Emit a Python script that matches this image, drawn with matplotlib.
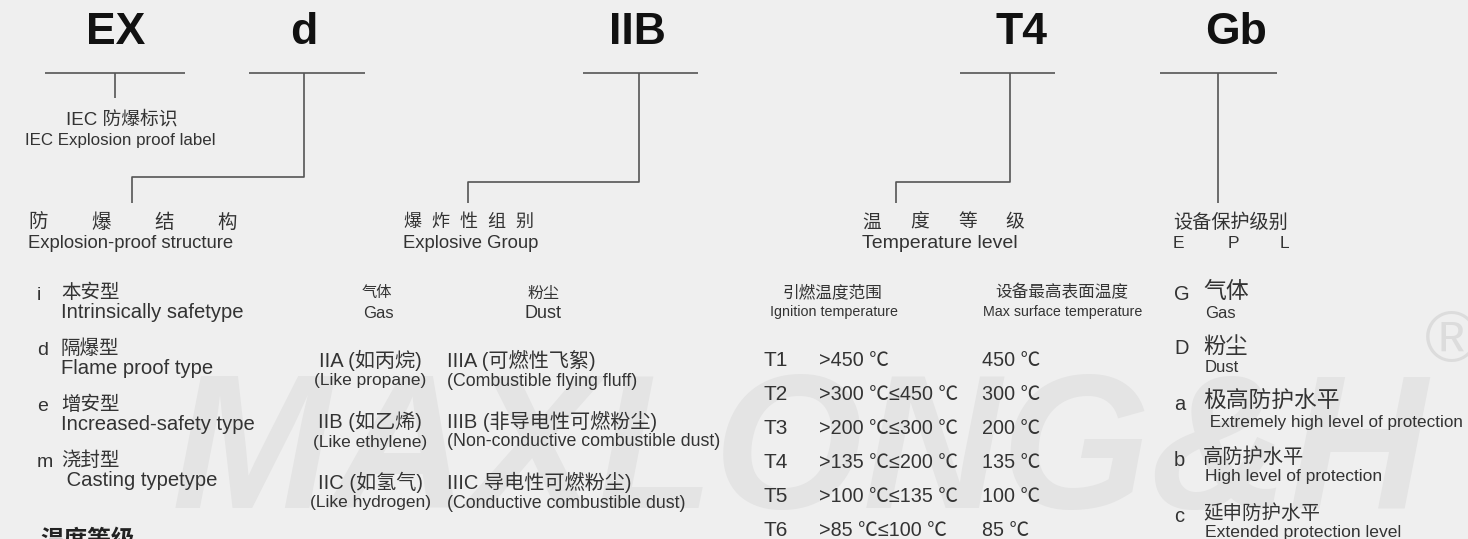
import matplotlib.pyplot as plt

LAT = ['Liberation Sans', 'Noto Sans CJK SC', 'DejaVu Sans']
CJK = ['Noto Sans CJK SC', 'Liberation Sans', 'DejaVu Sans']

# code parts on top and their x centres
codes = ['EX', 'd', 'IIB', 'T4', 'Gb']
code_x = [116, 304, 637, 1021, 1236]

# protection types
prot_keys = ['i', 'd', 'e', 'm']
prot_cn = ['本安型', '隔爆型', '增安型', '浇封型']
prot_en = ['Intrinsically safetype', 'Flame proof type', 'Increased-safety type', ' Casting typetype']

# explosive groups
gas_cn = ['IIA (如丙烷)', 'IIB (如乙烯)', 'IIC (如氢气)']
gas_en = ['(Like propane)', '(Like ethylene)', '(Like hydrogen)']
dust_cn = ['IIIA (可燃性飞絮)', 'IIIB (非导电性可燃粉尘)', 'IIIC 导电性可燃粉尘)']
dust_en = ['(Combustible flying fluff)', '(Non-conductive combustible dust)', '(Conductive combustible dust)']

# temperature classes
t_class = ['T1', 'T2', 'T3', 'T4', 'T5', 'T6']
t_range = ['>450 ℃', '>300 ℃≤450 ℃', '>200 ℃≤300 ℃', '>135 ℃≤200 ℃', '>100 ℃≤135 ℃', '>85 ℃≤100 ℃']
t_max = ['450 ℃', '300 ℃', '200 ℃', '135 ℃', '100 ℃', '85 ℃']

# EPL
epl_keys = ['G', 'D', 'a', 'b', 'c']
epl_cn = ['气体', '粉尘', '极高防护水平', '高防护水平', '延申防护水平']
epl_en = ['Gas', 'Dust', ' Extremely high level of protection', 'High level of protection', 'Extended protection level']

BG = '#efefef'
TXT = '#333333'
LN = '#555555'

fig = plt.figure(figsize=(14.68, 5.39), dpi=100)
fig.patch.set_facecolor(BG)
ax = fig.add_axes([0, 0, 1, 1])
ax.set_xlim(0, 1468)
ax.set_ylim(539, 0)
ax.axis('off')
ax.set_facecolor(BG)

# watermark
ax.text(800, 458, 'MAXLONG&H', fontsize=138, fontweight='bold', style='italic',
        family=LAT, color='#e4e4e4', ha='center', va='center', zorder=0)
ax.text(1452, 342, '®', fontsize=52, family=LAT, color='#dcdcdc', ha='center', va='center', zorder=0)

def t(x, y, s, size, ha='left', fam=LAT, color=TXT, weight='normal'):
    ax.text(x, y, s, fontsize=size, family=fam, color=color, ha=ha, va='center',
            fontweight=weight, zorder=2)

def seg(xs, ys):
    ax.plot(xs, ys, color=LN, lw=1.2, solid_capstyle='butt', zorder=1)

for c, x in zip(codes, code_x):
    t(x, 32, c, 32, ha='center', color='#111111', weight='bold')

# brackets
seg([45, 185], [73, 73]); seg([115, 115], [73, 98])
seg([249, 365], [73, 73]); seg([304, 304, 132, 132], [73, 177, 177, 203])
seg([583, 698], [73, 73]); seg([639, 639, 468, 468], [73, 182, 182, 203])
seg([960, 1055], [73, 73]); seg([1010, 1010, 896, 896], [73, 182, 182, 203])
seg([1160, 1277], [73, 73]); seg([1218, 1218], [73, 203])

# headers
t(122, 119, 'IEC 防爆标识', 13.5, ha='center')
t(120, 140, 'IEC Explosion proof label', 12.2, ha='center')

for x, ch in zip([28, 91, 154, 217], '防爆结构'):
    t(x, 222, ch, 14, fam=CJK)
t(28, 243, 'Explosion-proof structure', 13.3)

for x, ch in zip([403, 431, 459, 487, 515], '爆炸性组别'):
    t(x, 222, ch, 13, fam=CJK)
t(403, 243, 'Explosive Group', 13.3)

for x, ch in zip([862, 910, 958, 1005], '温度等级'):
    t(x, 222, ch, 13.5, fam=CJK)
t(862, 243, 'Temperature level', 14)

t(1173, 222, '设备保护级别', 13.8, fam=CJK)
for x, ch in zip([1173, 1228, 1280], 'EPL'):
    t(x, 243, ch, 12.5)

# protection types
for i, (k, cn, en) in enumerate(zip(prot_keys, prot_cn, prot_en)):
    y = 293 + i * 55.7
    t(37, y + 2, k, 14)
    t(61, y, cn, 14, fam=CJK)
    t(61, y + 20, en, 14.6)

t(40, 540, '温度等级', 17, fam=CJK, weight='bold', color='#222222')

# explosive group table
t(377, 293, '气体', 11, ha='center', fam=CJK)
t(378, 313, 'Gas', 12, ha='center')
t(543, 293, '粉尘', 11.5, ha='center', fam=CJK)
t(543, 314, 'Dust', 13, ha='center')
for i in range(3):
    y = 360 + i * 61
    t(370, y, gas_cn[i], 14.5, ha='center')
    t(370, y + 21, gas_en[i], 12.5, ha='center')
    t(447, y, dust_cn[i], 14.5)
    t(447, y + 21, dust_en[i], 12.8)

# temperature table
t(832, 293, '引燃温度范围', 12, ha='center', fam=CJK)
t(834, 312, 'Ignition temperature', 10.3, ha='center')
t(1062, 293, '设备最高表面温度', 12, ha='center', fam=CJK)
t(1063, 312, 'Max surface temperature', 10.3, ha='center')
for i in range(6):
    y = 360 + i * 34
    t(763, y, t_class[i], 15)
    t(819, y, t_range[i], 14.2)
    t(982, y, t_max[i], 14.2)

# EPL list
epl_y = [293, 348, 403, 459, 515]
epl_en_y = [313, 367, 422, 477, 532]
cn_size = [16.5, 16, 16.4, 14.6, 14]
en_size = [12, 12, 12.3, 12.5, 12.6]
for i in range(5):
    t(1174, epl_y[i] + 1, epl_keys[i], 14.5)
    t(1203, epl_y[i] - 2, epl_cn[i], cn_size[i], fam=CJK)
    t(1205, epl_en_y[i], epl_en[i], en_size[i])

fig.savefig('out.png', dpi=100, facecolor=BG)
